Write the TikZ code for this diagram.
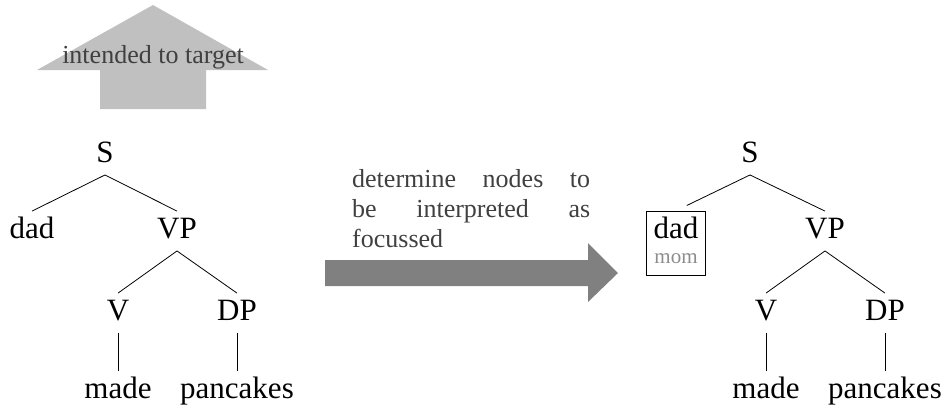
\documentclass[tikz,border=0pt]{standalone}
\usepackage{fontspec}
\setmainfont{Liberation Serif}
\usetikzlibrary{fit}
\definecolor{arrowlight}{HTML}{C0C0C0}
\definecolor{arrowdark}{HTML}{808080}
\definecolor{labelgray}{HTML}{404040}
\definecolor{momgray}{HTML}{8C8C8C}
\begin{document}
\begin{tikzpicture}[x=1pt,y=-1pt,
  tree/.style={font=\fontsize{31}{37}\selectfont, text height=21.7pt, text depth=7.75pt, inner xsep=2pt, inner ysep=5pt, anchor=base},
  edge/.style={line width=0.8pt},
  graytext/.style={font=\fontsize{26}{30}\selectfont, text=labelgray}]
\useasboundingbox (0,0) rectangle (946,408);
% up arrow
\fill[arrowlight] (100,109) -- (100,70) -- (37,70) -- (153,5) -- (268,70) -- (206,70) -- (206,109) -- cycle;
\node[graytext, anchor=base, inner sep=0pt] (target) at (153,63) {intended to target};
% left tree
\node[tree] (S1) at (105,162) {S};
\node[tree] (dad1) at (32,238) {dad};
\node[tree] (VP1) at (177,238) {VP};
\node[tree] (V1) at (118,320) {V};
\node[tree] (DP1) at (237,320) {DP};
\node[tree] (made1) at (118,398) {made};
\node[tree] (pan1) at (237,398) {pancakes};
\draw[edge] (S1.south) -- (dad1.north);
\draw[edge] (S1.south) -- (VP1.north);
\draw[edge] (VP1.south) -- (V1.north);
\draw[edge] (VP1.south) -- (DP1.north);
\draw[edge] (V1.south) -- (made1.north);
\draw[edge] (DP1.south) -- (pan1.north);
% middle arrow
\fill[arrowdark] (325,260) -- (588,260) -- (588,243) -- (618,273) -- (588,302) -- (588,286) -- (325,286) -- cycle;
\node[graytext, text width=238pt, align=left, inner sep=0pt, anchor=north west] (mid) at (352,169)
  {determine\hfill nodes\hfill to\\be\hfill interpreted\hfill as\\focussed};
% right tree
\node[tree] (S2) at (750,162) {S};
\node[tree, inner xsep=7pt] (dad2) at (676,238) {dad};
\node[font=\fontsize{21}{25}\selectfont, text=momgray, anchor=base, text depth=5.25pt, inner xsep=2pt, inner ysep=6.5pt] (mom) at (676,263) {mom};
\node[draw, line width=0.8pt, inner sep=0pt, fit=(dad2)(mom)] (box) {};
\node[tree] (VP2) at (825,238) {VP};
\node[tree] (V2) at (766,320) {V};
\node[tree] (DP2) at (885,320) {DP};
\node[tree] (made2) at (766,398) {made};
\node[tree] (pan2) at (885,398) {pancakes};
\draw[edge, shorten >=12pt] (S2.south) -- (box.north);
\draw[edge] (S2.south) -- (VP2.north);
\draw[edge] (VP2.south) -- (V2.north);
\draw[edge] (VP2.south) -- (DP2.north);
\draw[edge] (V2.south) -- (made2.north);
\draw[edge] (DP2.south) -- (pan2.north);
\end{tikzpicture}
\end{document}
